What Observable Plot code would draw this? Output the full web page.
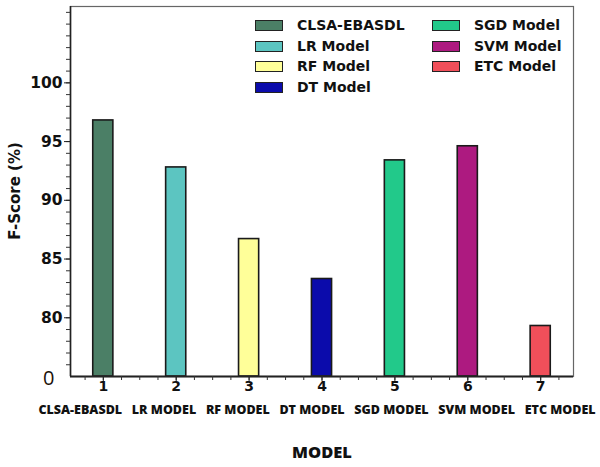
<!DOCTYPE html>
<html><head><meta charset="utf-8">
<script src="https://cdn.jsdelivr.net/npm/d3@7"></script>
<script src="https://cdn.jsdelivr.net/npm/@observablehq/plot@0.6"></script>
<style>
body{margin:0;background:#fff;}
#wrap{position:relative;width:600px;height:467px;}
.leg{position:absolute;font-family:"DejaVu Sans",sans-serif;font-weight:bold;font-size:14px;color:#111;}
.leg .row{position:absolute;white-space:nowrap;height:20px;line-height:20px;}
.leg .sw{position:absolute;left:0;top:5px;width:26px;height:9px;border:1px solid #222;}
.leg .tx{position:absolute;left:42px;top:0;}
.ylab{position:absolute;left:15px;top:191px;width:0;height:0;}
.ylab span{position:absolute;transform:translate(-50%,-50%) rotate(-90deg);white-space:nowrap;font-family:"DejaVu Sans",sans-serif;font-weight:bold;font-size:15px;color:#111;line-height:18px;}
</style></head>
<body><div id="wrap"></div>
<script>
const models = ["CLSA-EBASDL","LR Model","RF Model","DT Model","SGD Model","SVM Model","ETC Model"];
const axisNames = ["CLSA-EBASDL","LR MODEL","RF MODEL","DT MODEL","SGD MODEL","SVM MODEL","ETC MODEL"];
const positions = [1,2,3,4,5,6,7];
const fscore = [96.8, 92.8, 86.7, 83.3, 93.4, 94.6, 79.3];
const colors = ["#4b7f66","#5cc5c1","#ffff99","#0b0bab","#22c98a","#ad1a80","#f04f5a"];
const yTicks = [80,85,90,95,100];
const yBase = 75; // shown as "0" on the broken axis
const yTitle = "F-Score (%)";
const xTitle = "MODEL";

const data = models.map((m,i)=>({model:m, pos:positions[i], v:fscore[i], c:colors[i]}));
const hw = 0.138;
const dv = "DejaVu Sans, sans-serif";
const os = "Open Sans, sans-serif";
const gap = "\u00a0\u00a0\u00a0";

const plot = Plot.plot({
  width:600, height:467,
  marginLeft:70, marginRight:27, marginTop:6, marginBottom:91,
  style:{fontFamily:dv, background:"#fff"},
  x:{type:"linear", domain:[0.55,7.45]},
  y:{domain:[75,106.5]},
  marks:[
    Plot.rect(data,{x1:d=>d.pos-hw, x2:d=>d.pos+hw, y1:yBase, y2:"v", fill:"c", stroke:"#1a1a1a", strokeWidth:1.6}),
    Plot.frame({stroke:"#666", strokeWidth:1.2}),
    Plot.ruleX([0.55],{stroke:"#222", strokeWidth:1.6}),
    Plot.ruleY([75],{stroke:"#222", strokeWidth:1.8}),
    Plot.axisY(d3.range(76,107),{tickSize:4, tickFormat:()=> "", stroke:"#333", label:null}),
    Plot.axisY(yTicks,{tickSize:6, tickFormat:()=> "", stroke:"#222", label:null}),
    Plot.text(yTicks,{y:d=>d, text:d=>String(d), frameAnchor:"left", textAnchor:"end", dx:-8, fontSize:15.5, fontWeight:"bold", fontFamily:dv, fill:"#111"}),
    Plot.text([yBase],{y:d=>d, text:()=>"0", frameAnchor:"left", textAnchor:"end", dx:-16, dy:2, fontSize:20, fontFamily:os, fill:"#1b1208"}),
    Plot.axisX(d3.range(0.75,7.5,0.25),{tickSize:4, tickFormat:()=>"", stroke:"#333", label:null}),
    Plot.axisX(positions,{tickSize:5, tickFormat:()=>"", stroke:"#222", label:null}),
    Plot.text(positions,{x:d=>d, text:d=>String(d), frameAnchor:"bottom", dy:14, fontSize:14, fontWeight:"bold", fontFamily:dv, fill:"#111"}),
    Plot.text([axisNames.join(gap)],{frameAnchor:"bottom", dx:-5, dy:37, fontSize:12.5, fontWeight:800, fontFamily:os, fill:"#111"}),
    Plot.text([xTitle],{frameAnchor:"bottom", dy:81, fontSize:16.5, fontWeight:800, fontFamily:os, fill:"#111"})
  ]
});
const wrap = document.getElementById("wrap");
wrap.appendChild(plot);

// y-axis title
const yl = document.createElement("div");
yl.className = "ylab";
yl.innerHTML = `<span>${yTitle}</span>`;
wrap.appendChild(yl);

// legend overlay
const leg = document.createElement("div");
leg.className = "leg";
leg.style.left = "255px"; leg.style.top = "15px";
const colX = [0,177];
models.forEach((m,i)=>{
  const col = i<4?0:1, row = i<4?i:i-4;
  const r = document.createElement("div");
  r.className = "row";
  r.style.left = colX[col]+"px";
  r.style.top = (row*20.7)+"px";
  r.innerHTML = `<span class="sw" style="background:${colors[i]}"></span><span class="tx">${m}</span>`;
  leg.appendChild(r);
});
wrap.appendChild(leg);
</script>
</body></html>
